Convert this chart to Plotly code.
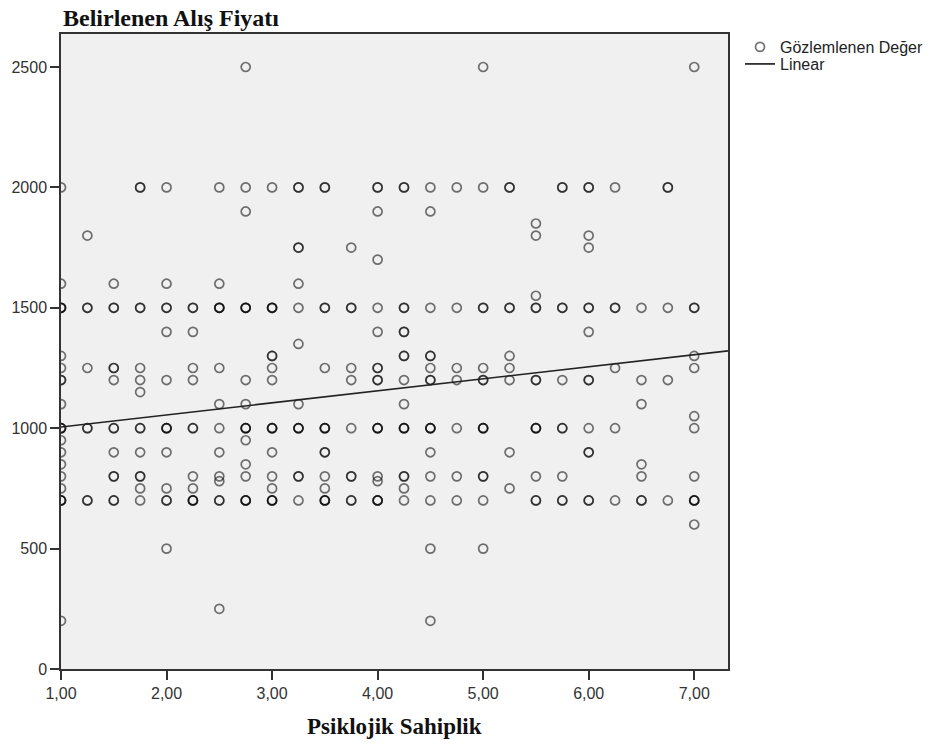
import plotly.graph_objects as go

# Observed values per Psiklojik Sahiplik level (repeats = overlapping points)
x_levels = [1.00, 1.25, 1.50, 1.75, 2.00, 2.25, 2.50, 2.75, 3.00, 3.25, 3.50, 3.75,
            4.00, 4.25, 4.50, 4.75, 5.00, 5.25, 5.50, 5.75, 6.00, 6.25, 6.50, 6.75, 7.00]

y_100 = [2000, 1600, 1500, 1500, 1500, 1300, 1250, 1200, 1200, 1100, 1000, 1000, 1000, 950, 900, 850, 800, 750, 700, 700, 700, 200]
y_125 = [1800, 1500, 1500, 1250, 1000, 1000, 700, 700]
y_150 = [1600, 1500, 1500, 1250, 1250, 1200, 1000, 1000, 900, 800, 800, 700, 700]
y_175 = [2000, 2000, 1500, 1500, 1250, 1200, 1150, 1000, 1000, 900, 800, 800, 750, 700]
y_200 = [2000, 1600, 1500, 1500, 1400, 1200, 1000, 1000, 1000, 900, 750, 700, 700, 500]
y_225 = [1500, 1500, 1400, 1250, 1200, 1000, 1000, 800, 750, 700, 700, 700]
y_250 = [2000, 1600, 1500, 1500, 1500, 1250, 1100, 1000, 900, 800, 780, 700, 700, 250]
y_275 = [2500, 2000, 1900, 1500, 1500, 1500, 1200, 1100, 1000, 1000, 1000, 950, 850, 800, 700, 700, 700]
y_300 = [2000, 1500, 1500, 1500, 1300, 1300, 1250, 1200, 1000, 1000, 1000, 900, 800, 750, 700, 700, 700]
y_325 = [2000, 2000, 1750, 1750, 1600, 1500, 1350, 1100, 1000, 1000, 1000, 800, 800, 700]
y_350 = [2000, 2000, 1500, 1500, 1250, 1000, 1000, 1000, 900, 900, 800, 750, 700, 700, 700]
y_375 = [1750, 1500, 1500, 1250, 1200, 1000, 800, 800, 700, 700]
y_400 = [2000, 2000, 1900, 1700, 1500, 1400, 1250, 1250, 1200, 1200, 1000, 1000, 1000, 800, 780, 700, 700, 700]
y_425 = [2000, 2000, 1500, 1500, 1400, 1400, 1300, 1300, 1200, 1100, 1000, 1000, 1000, 800, 800, 750, 700]
y_450 = [2000, 1900, 1500, 1300, 1300, 1250, 1200, 1200, 1000, 1000, 1000, 900, 800, 700, 500, 200]
y_475 = [2000, 1500, 1250, 1200, 1000, 800, 700]
y_500 = [2500, 2000, 1500, 1500, 1250, 1200, 1200, 1000, 1000, 1000, 800, 800, 700, 500]
y_525 = [2000, 2000, 1500, 1500, 1300, 1250, 1200, 900, 750]
y_550 = [1850, 1800, 1550, 1500, 1500, 1200, 1200, 1000, 1000, 1000, 800, 700, 700]
y_575 = [2000, 2000, 1500, 1500, 1200, 1000, 1000, 800, 700, 700]
y_600 = [2000, 2000, 1800, 1750, 1500, 1500, 1400, 1200, 1200, 1000, 900, 900, 700, 700]
y_625 = [2000, 1500, 1500, 1250, 1000, 700]
y_650 = [1500, 1200, 1100, 850, 800, 700, 700]
y_675 = [2000, 2000, 1500, 1200, 700]
y_700 = [2500, 1500, 1500, 1300, 1250, 1050, 1000, 800, 700, 700, 700, 600]

# Linear fit line (x, y at the ends)
fit_x = [1.0, 7.32]
fit_y = [1005, 1321]

x_ticks = [1, 2, 3, 4, 5, 6, 7]
x_ticktext = ["1,00", "2,00", "3,00", "4,00", "5,00", "6,00", "7,00"]
y_ticks = [0, 500, 1000, 1500, 2000, 2500]

columns = [y_100, y_125, y_150, y_175, y_200, y_225, y_250, y_275, y_300, y_325, y_350,
           y_375, y_400, y_425, y_450, y_475, y_500, y_525, y_550, y_575, y_600, y_625,
           y_650, y_675, y_700]

xs, ys = [], []
for xv, col in zip(x_levels, columns):
    for yv in col:
        xs.append(xv)
        ys.append(yv)

sans = "Liberation Sans, Arial"
serif = "Liberation Serif, Times New Roman"

fig = go.Figure()
fig.add_trace(go.Scatter(
    x=xs, y=ys, mode="markers", name="Gözlemlenen Değer", legend="legend",
    marker=dict(symbol="circle-open", size=9, color="rgba(0,0,0,0.55)",
                line=dict(width=1.7)),
))
fig.add_trace(go.Scatter(
    x=fit_x, y=fit_y, mode="lines", name="Linear", legend="legend2",
    line=dict(color="#222222", width=1.7),
))

legend_common = dict(xanchor="left", yanchor="top",
                     font=dict(family=sans, size=16, color="#222"),
                     bgcolor="rgba(0,0,0,0)", itemwidth=30)

fig.update_layout(
    width=929, height=745,
    margin=dict(l=61, r=201, t=34, b=76, autoexpand=False),
    paper_bgcolor="white",
    plot_bgcolor="#f0f0f0",
    showlegend=True,
    legend=dict(x=1.018, y=1.0063, **legend_common),
    legend2=dict(x=1.018, y=0.9795, **legend_common),
    annotations=[
        dict(text="<b>Belirlenen Alış Fiyatı</b>", xref="paper", yref="paper",
             x=0, y=1.0488, xanchor="left", yanchor="top", showarrow=False,
             font=dict(family=serif, size=24, color="#111")),
        dict(text="<b>Psiklojik Sahiplik</b>", xref="paper", yref="paper",
             x=0.5, y=-0.0677, xanchor="center", yanchor="top", showarrow=False,
             font=dict(family=serif, size=23, color="#111")),
    ],
    xaxis=dict(range=[1.0, 7.32], tickvals=x_ticks, ticktext=x_ticktext,
               showgrid=False, zeroline=False, showline=True, linecolor="#333",
               linewidth=1.5, mirror=True, ticks="outside", ticklen=9, tickcolor="#333",
               tickwidth=1.5,
               tickfont=dict(family=sans, size=16, color="#333")),
    yaxis=dict(range=[0, 2637], tickvals=y_ticks,
               showgrid=False, zeroline=False, showline=True, linecolor="#333",
               linewidth=1.5, mirror=True, ticks="outside", ticklen=9, tickcolor="#333",
               tickwidth=1.5,
               tickfont=dict(family=sans, size=16, color="#333")),
)

fig.write_html("out.html")
